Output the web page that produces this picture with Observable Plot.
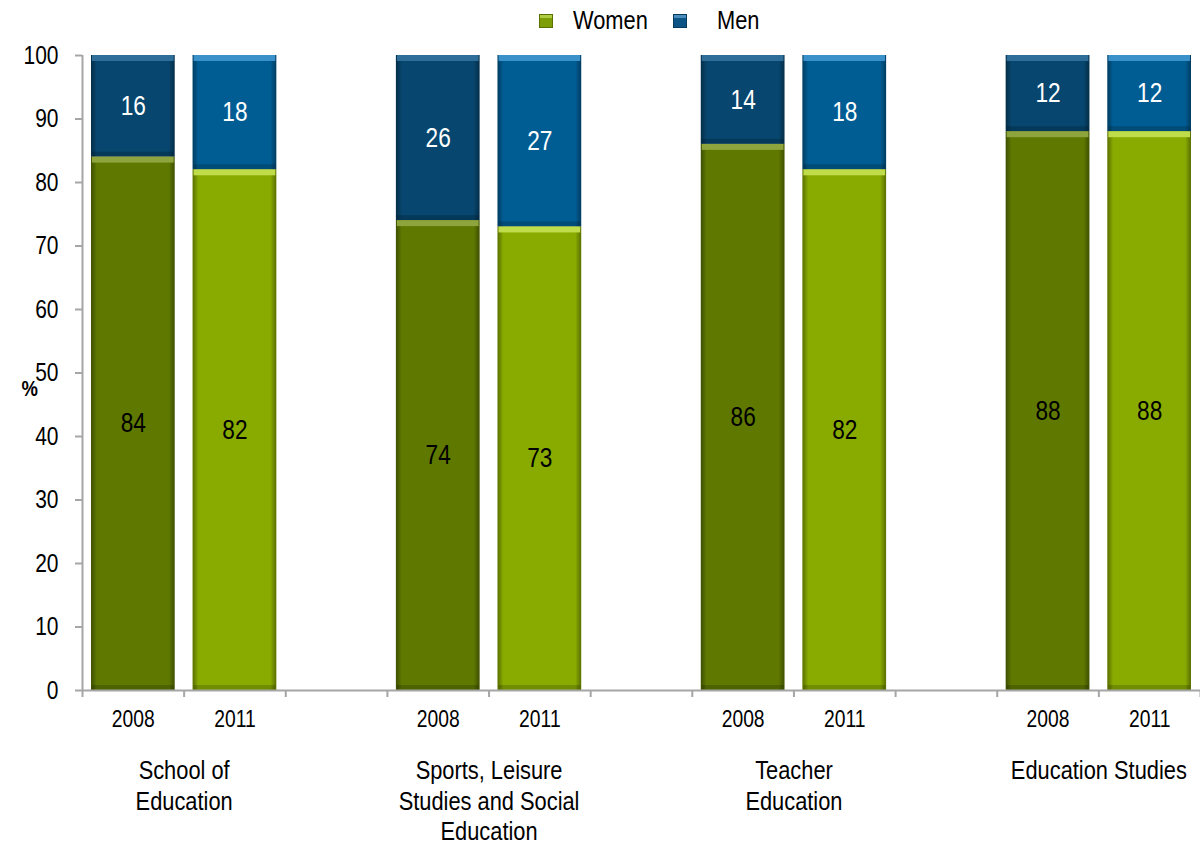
<!DOCTYPE html>
<html>
<head>
<meta charset="utf-8">
<script src="https://cdn.jsdelivr.net/npm/d3@7"></script>
<script src="https://cdn.jsdelivr.net/npm/@observablehq/plot@0.6"></script>
<style>
  html, body { margin: 0; padding: 0; background: #fff; }
  body { width: 1200px; height: 846px; overflow: hidden; font-family: "Liberation Sans", Arial, sans-serif; }
  #legend { position: relative; height: 40px; width: 1200px; }
  .sw { position: absolute; top: 14px; width: 14px; height: 14px; box-sizing: border-box; }
  .lt { position: absolute; top: 4px; font-size: 26px; line-height: 32px; color: #000; transform: scaleX(0.84); transform-origin: left center; }
</style>
</head>
<body>
<div id="legend">
  <div class="sw" style="left:539px;background:#7e9e08;border:1px solid #5a7000;box-shadow: inset 0 3px 0 #b0cc40;"></div>
  <div class="lt" style="left:573px;">Women</div>
  <div class="sw" style="left:673px;background:#0d5486;border:1px solid #073c60;box-shadow: inset 0 3px 0 #4a8cbc;"></div>
  <div class="lt" style="left:717px;">Men</div>
</div>
<div id="chart"></div>
<script>
const groups = ["School of\nEducation", "Sports, Leisure\nStudies and Social\nEducation", "Teacher\nEducation", "Education Studies"];
const years = ["2008", "2011"];
const women2008 = [84, 74, 86, 88];
const men2008 = [16, 26, 14, 12];
const women2011 = [82, 73, 82, 88];
const men2011 = [18, 27, 18, 12];
const yTicks = [0, 10, 20, 30, 40, 50, 60, 70, 80, 90, 100];

const slotsPerGroup = 3;
const nSlots = groups.length * slotsPerGroup - 1;

const rows = [];
groups.forEach((g, gi) => {
  years.forEach((yr, yi) => {
    const w = yi === 0 ? women2008[gi] : women2011[gi];
    const m = yi === 0 ? men2008[gi] : men2011[gi];
    rows.push({group: g, gi, year: yr, slot: gi * slotsPerGroup + yi, women: w, men: m});
  });
});
const segs = [];
rows.forEach(r => {
  segs.push({...r, sex: "W", key: "W" + r.year, y1: 0, y2: r.women, v: r.women});
  segs.push({...r, sex: "M", key: "M" + r.year, y1: r.women, y2: r.women + r.men, v: r.men});
});
const groupRows = groups.map((g, gi) => ({label: g, center: gi * slotsPerGroup + 1}));

const baseColors = {W2008: "#5f7900", W2011: "#89ab00", M2008: "#07466e", M2011: "#005d94"};
const hiColors = {W2008: "#8ea43c", W2011: "#bfdc4a", M2008: "#2f6e98", M2011: "#3a90c8"};

const font = '"Liberation Sans", Arial, sans-serif';
const gridGray = "#a6a6a6";

const plot = Plot.plot({
  width: 1200,
  height: 806,
  marginTop: 15,
  marginBottom: 156,
  marginLeft: 82,
  marginRight: 0,
  style: {fontFamily: font, fontSize: "26px", background: "#fff", color: "#000"},
  x: {type: "linear", domain: [0, nSlots], axis: null},
  y: {domain: [0, 100], axis: null},
  marks: [
    Plot.rectY(segs, {x1: "slot", x2: d => d.slot + 1, y1: "y1", y2: "y2", fill: d => baseColors[d.key], insetLeft: 9, insetRight: 9}),
    Plot.rectY(segs, {x1: "slot", x2: d => d.slot + 1, y1: "y1", y2: "y2", fill: "url(#sideShade)", insetLeft: 9, insetRight: 9}),
    Plot.rectY(segs, {x1: "slot", x2: d => d.slot + 1, y1: "y2", y2: "y2", fill: d => hiColors[d.key], insetLeft: 10, insetRight: 10, insetBottom: -6}),
    Plot.rectY(segs, {x1: "slot", x2: d => d.slot + 1, y1: "y1", y2: "y1", fill: "rgba(0,0,0,0.18)", insetLeft: 10, insetRight: 10, insetTop: -5}),
    Plot.text(segs, {x: d => d.slot + 0.5, y: d => (d.y1 + d.y2) / 2, text: d => String(d.v), fill: d => d.sex === "W" ? "#000" : "#fff", fontSize: 27}),
    Plot.ruleX([0], {y1: 0, y2: 100, stroke: gridGray, strokeWidth: 2}),
    Plot.ruleY([0], {x1: 0, x2: nSlots, stroke: gridGray, strokeWidth: 2}),
    Plot.axisY({ticks: yTicks, tickSize: 7, tickPadding: 17, stroke: gridGray, color: "#000", fontSize: 25, strokeWidth: 2}),
    Plot.axisX({ticks: d3.range(0, nSlots + 1), tickFormat: () => "", tickSize: 7, stroke: gridGray, strokeWidth: 2}),
    Plot.text(rows, {x: d => d.slot + 0.5, frameAnchor: "bottom", dy: 36, text: "year", fontSize: 23}),
    Plot.text(groupRows, {x: "center", frameAnchor: "bottom", lineAnchor: "top", dy: 67, text: "label", fontSize: 26, lineHeight: 1.17}),
    Plot.text(["%"], {frameAnchor: "left", dx: -61, dy: 16, text: d => d, fontWeight: "bold", fontSize: 22})
  ]
});

const svg = d3.select(plot);
// condense glyphs horizontally to mimic the narrow typeface of the original
svg.selectAll("text").each(function() {
  const tr = this.getAttribute("transform") || "";
  const x = +(this.getAttribute("x") || 0);
  this.setAttribute("transform", `${tr} translate(${x},0) scale(0.84,1) translate(${-x},0)`);
});
const defs = svg.insert("defs", ":first-child");
const g = defs.append("linearGradient").attr("id", "sideShade").attr("x1", "0").attr("x2", "1").attr("y1", "0").attr("y2", "0");
[[0, 0.35], [0.07, 0], [0.93, 0], [1, 0.35]].forEach(([o, a]) => {
  g.append("stop").attr("offset", o).attr("stop-color", "#000").attr("stop-opacity", a);
});
document.getElementById("chart").appendChild(plot);
</script>
</body>
</html>
